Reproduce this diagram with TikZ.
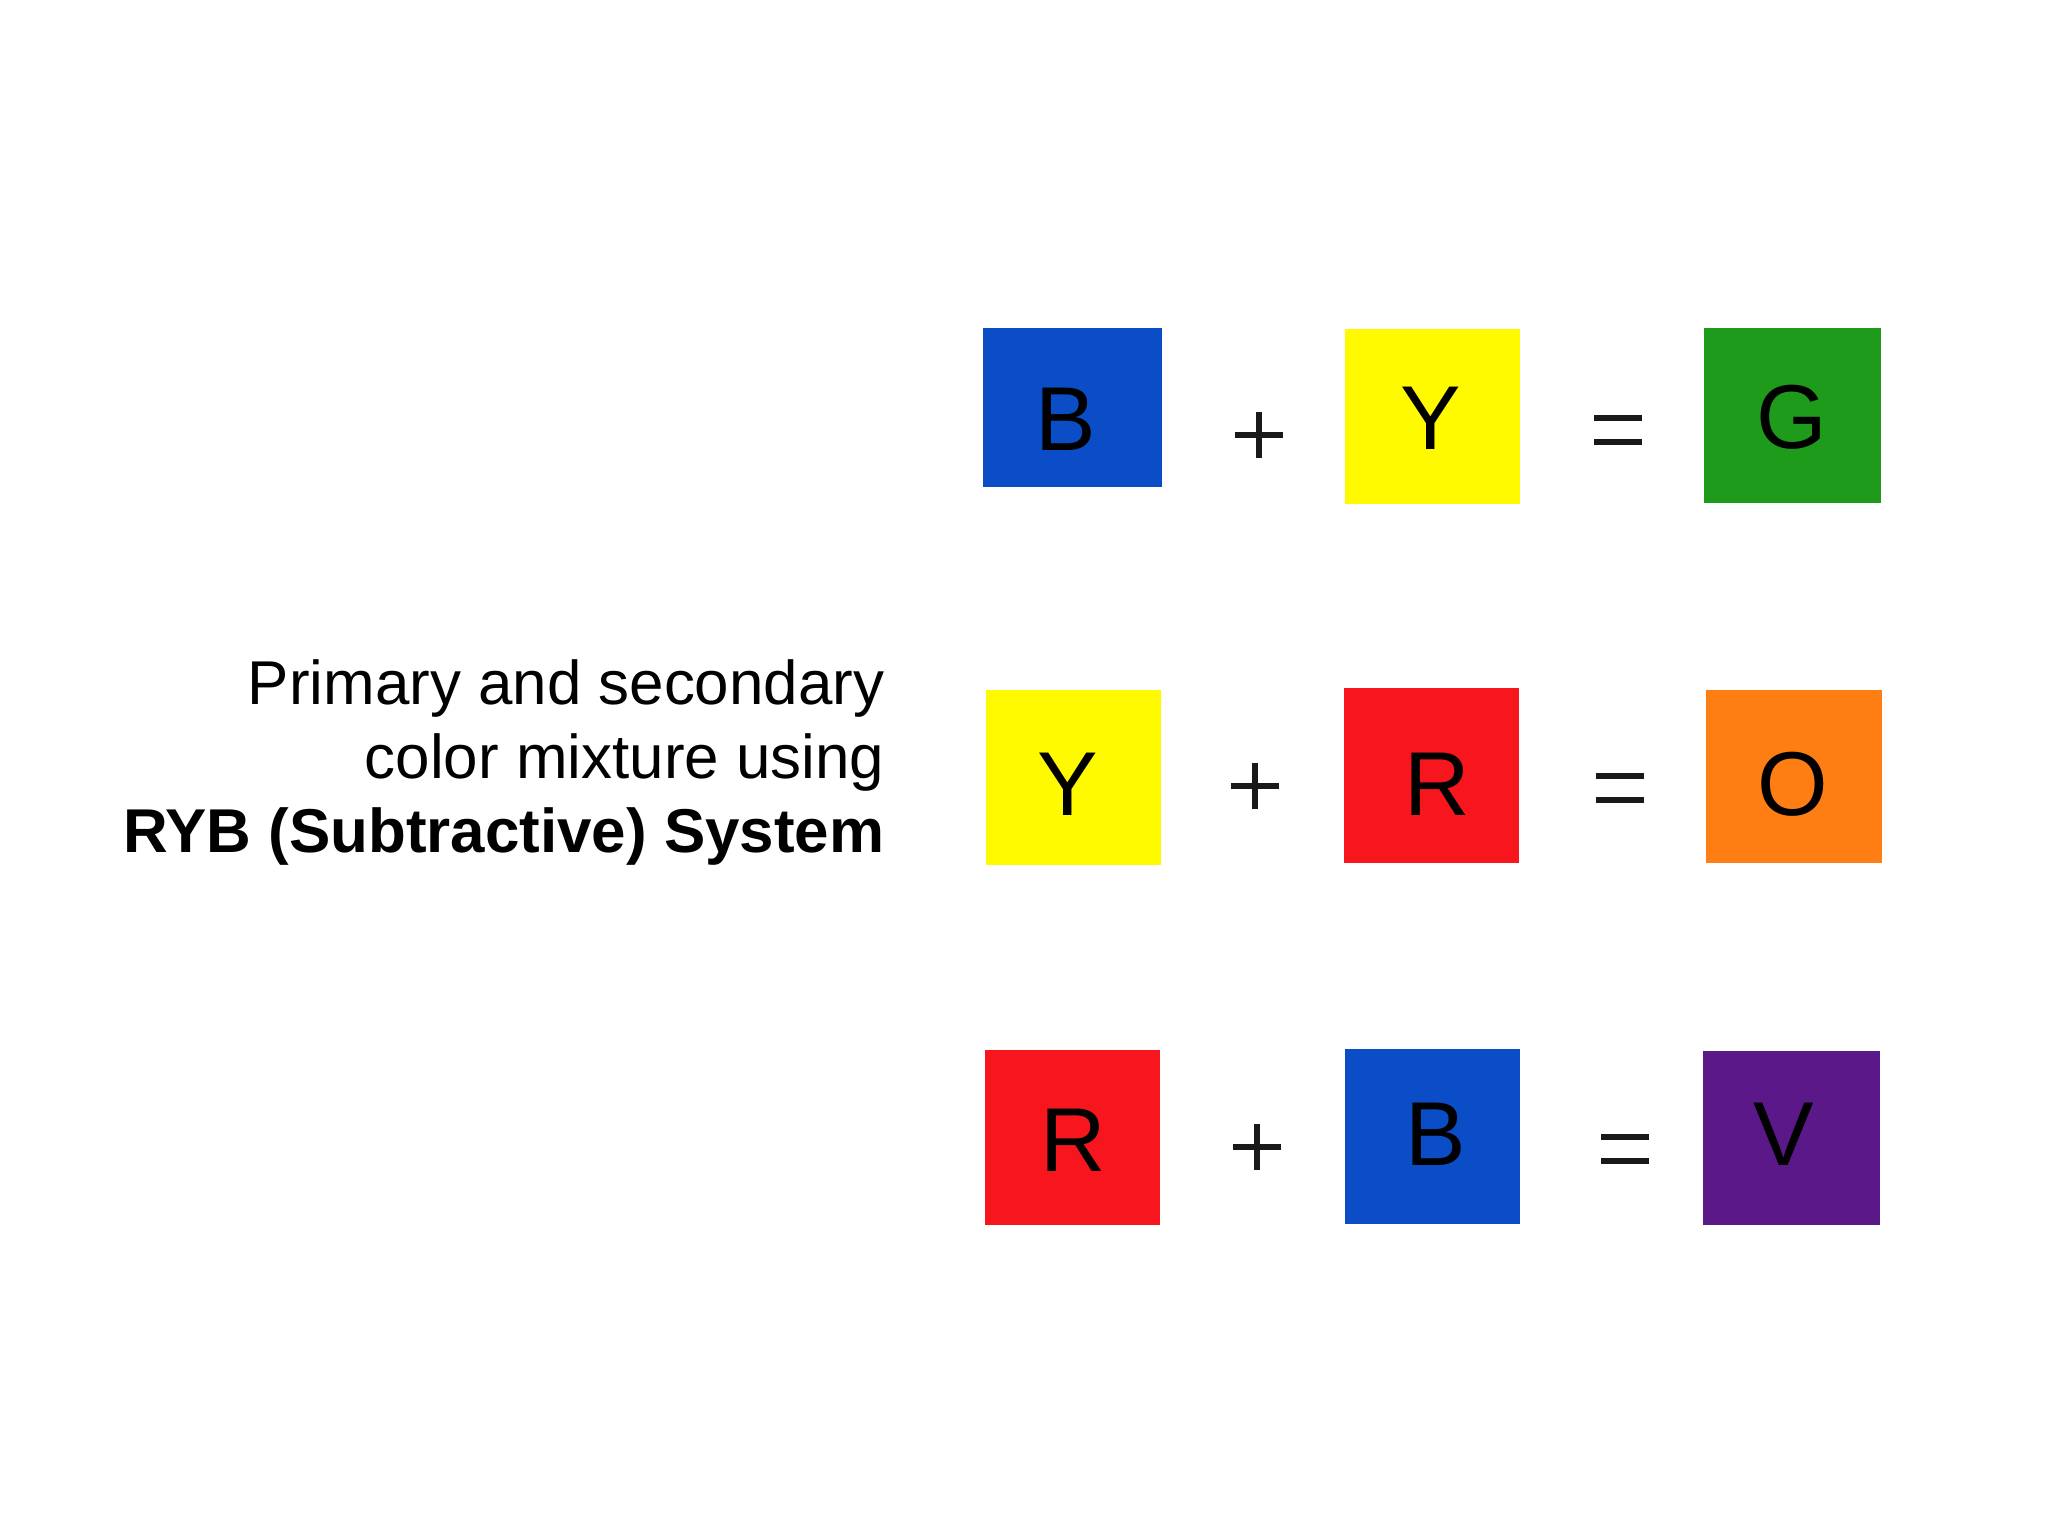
\documentclass[tikz,border=0pt]{standalone}
\usepackage{fontspec}
\setmainfont{Liberation Sans}
\definecolor{rybblue}{HTML}{0B4DC6}
\definecolor{rybyellow}{HTML}{FFFA00}
\definecolor{rybgreen}{HTML}{1F9B1C}
\definecolor{rybred}{HTML}{F8161E}
\definecolor{ryborange}{HTML}{FF7E14}
\definecolor{rybviolet}{HTML}{5A1888}
\tikzset{
  sq/.style={draw=none, inner sep=0pt, minimum width=17.5mm, minimum height=17.5mm},
  letter/.style={inner sep=0pt, text=black, font=\fontsize{25.8}{30}\selectfont},
  titletext/.style={inner sep=0pt, anchor=base east, font=\fontsize{17.6}{21}\selectfont},
  opline/.style={line width=1.5pt, black!90}
}
\begin{document}
\begin{tikzpicture}[x=0.01cm, y=-0.01cm]
\useasboundingbox (0,0) rectangle (2048,1536);
\fill[white] (0,0) rectangle (2048,1536);
% title
\node[titletext] (t1) at (885,704) {Primary and secondary};
\node[titletext] (t2) at (885,778) {color mixture using};
\node[titletext, font=\fontsize{17.6}{21}\selectfont\bfseries] (t3) at (885,852) {RYB (Subtractive) System};
% row 1
\node[sq, fill=rybblue, minimum width=17.9mm, minimum height=15.9mm] (b1) at (1072.5,407.5) {};
\node[sq, fill=rybyellow] (y1) at (1432.5,416.5) {};
\node[sq, fill=rybgreen, minimum width=17.7mm] (g1) at (1792.5,415.5) {};
\node[letter] (lb1) at (1066,419.5) {B};
\node[letter] (ly1) at (1431,418) {Y};
\node[letter] (lg1) at (1792,417) {G};
% row 2
\node[sq, fill=rybyellow] (y2) at (1073.5,777.5) {};
\node[sq, fill=rybred] (r2) at (1431.5,775.5) {};
\node[sq, fill=ryborange, minimum width=17.6mm, minimum height=17.3mm] (o2) at (1794,776.5) {};
\node[letter] (ly2) at (1068,784) {Y};
\node[letter] (lr2) at (1437,784) {R};
\node[letter] (lo2) at (1793,784) {O};
% row 3
\node[sq, fill=rybred] (r3) at (1072.5,1137.5) {};
\node[sq, fill=rybblue] (b3) at (1432.5,1136.5) {};
\node[sq, fill=rybviolet, minimum width=17.7mm, minimum height=17.4mm] (v3) at (1791.5,1138) {};
\node[letter] (lr3) at (1073,1140) {R};
\node[letter] (lb3) at (1436,1134) {B};
\node[letter] (lv3) at (1784,1134) {V};
% operators
\foreach \n/\x/\y in {p1/1259/435, p2/1255/786, p3/1257/1147}{
  \coordinate (\n) at (\x,\y);
  \draw[opline] ([xshift=-2.4mm]\n) -- ([xshift=2.4mm]\n);
  \draw[opline] ([yshift=-2.3mm]\n) -- ([yshift=2.3mm]\n);
}
\foreach \n/\x/\y in {e1/1618/430, e2/1620/788, e3/1625/1149}{
  \coordinate (\n) at (\x,\y);
  \draw[opline, line width=1.8pt] ([xshift=-2.4mm,yshift=-1.2mm]\n) -- ([xshift=2.4mm,yshift=-1.2mm]\n);
  \draw[opline, line width=1.8pt] ([xshift=-2.4mm,yshift=1.2mm]\n) -- ([xshift=2.4mm,yshift=1.2mm]\n);
}
\end{tikzpicture}
\end{document}
